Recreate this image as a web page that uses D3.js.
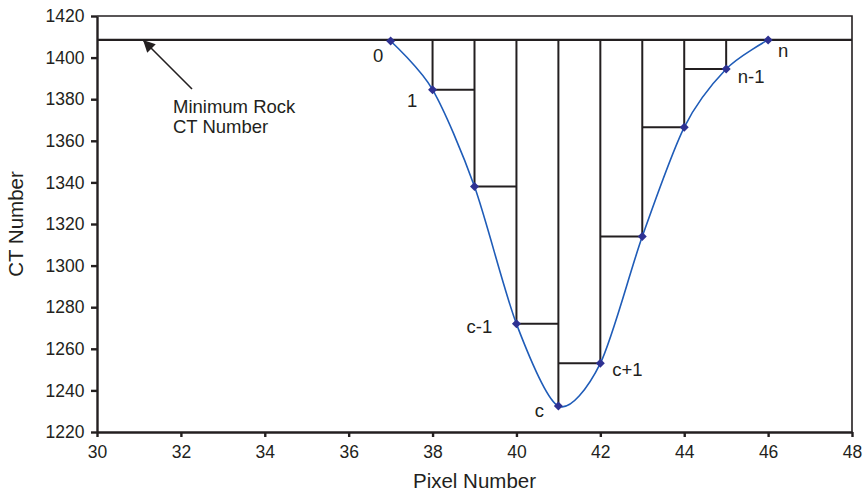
<!DOCTYPE html>
<html>
<head>
<meta charset="utf-8">
<script src="https://cdn.jsdelivr.net/npm/d3@7"></script>
<style>
  body { margin: 0; background: #fff; }
  text { font-family: "Liberation Sans", Arial, sans-serif; fill: #231f20; }
</style>
</head>
<body>
<div id="chart"></div>
<script>
// data
const pixelNumbers = [37, 38, 39, 40, 41, 42, 43, 44, 45, 46]
const ctNumbers = [1408, 1384.6, 1338, 1272, 1232.5, 1253, 1314, 1366.5, 1394.5, 1408.5]
const pointLabels = ["0", "1", "", "c-1", "c", "c+1", "", "", "n-1", "n"]
const minRockCT = 1408.5
const centerPixel = 41
const xTicks = [30, 32, 34, 36, 38, 40, 42, 44, 46, 48]
const yTicks = [1220, 1240, 1260, 1280, 1300, 1320, 1340, 1360, 1380, 1400, 1420]

const width = 863, height = 494
const margin = { top: 16, right: 11, bottom: 62, left: 97 }
const ink = "#231f20"

const svg = d3.select("#chart")
              .append("svg")
              .attr("width", width)
              .attr("height", height)

const x = d3.scaleLinear()
            .domain([30, 48])
            .range([margin.left, width - margin.right])

const y = d3.scaleLinear()
            .domain([1220, 1420])
            .range([height - margin.bottom, margin.top])

const points = pixelNumbers.map((p, i) => ({ p: p, v: ctNumbers[i], label: pointLabels[i] }))

// frame (top and right edges)
svg.append("path")
   .attr("d", `M${x(30)},${y(1420)}H${x(48)}V${y(1220)}`)
   .attr("fill", "none")
   .attr("stroke", ink)
   .attr("stroke-width", 1.6)

// axes
const xAxis = d3.axisBottom(x).tickValues(xTicks).tickSize(5).tickSizeOuter(0)
const yAxis = d3.axisLeft(y).tickValues(yTicks).tickSize(6).tickSizeOuter(0)
                .tickFormat(d3.format("d"))

const gx = svg.append("g")
              .attr("transform", `translate(0,${y(1220)})`)
              .call(xAxis)
gx.selectAll("text").attr("font-size", "17.5px").attr("dy", "1.05em")

const gy = svg.append("g")
              .attr("transform", `translate(${x(30)},0)`)
              .call(yAxis)
gy.selectAll("text").attr("font-size", "17.5px").attr("dx", "-0.2em")

svg.selectAll(".domain, .tick line")
   .attr("stroke", ink)
   .attr("stroke-width", 2.4)
svg.selectAll(".tick text").style("fill", ink).attr("font-family", "Liberation Sans, Arial, sans-serif")

// minimum rock CT line
svg.append("line")
   .attr("x1", x(30))
   .attr("x2", x(48))
   .attr("y1", y(minRockCT))
   .attr("y2", y(minRockCT))
   .attr("stroke", ink)
   .attr("stroke-width", 2.2)

// step construction: vertical drops and horizontal treads
const inner = points.filter(d => d.p > pixelNumbers[0] && d.p < pixelNumbers[pixelNumbers.length - 1])
const steps = svg.append("g")
                 .attr("stroke", ink)
                 .attr("stroke-width", 2)
                 .attr("fill", "none")

steps.selectAll("line.drop")
     .data(inner)
     .enter()
     .append("line")
     .attr("class", "drop")
     .attr("x1", d => x(d.p))
     .attr("x2", d => x(d.p))
     .attr("y1", y(minRockCT))
     .attr("y2", d => y(d.v))

steps.selectAll("line.tread")
     .data(inner.filter(d => d.p !== centerPixel))
     .enter()
     .append("line")
     .attr("class", "tread")
     .attr("x1", d => x(d.p))
     .attr("x2", d => d.p < centerPixel ? x(d.p + 1) : x(d.p - 1))
     .attr("y1", d => y(d.v))
     .attr("y2", d => y(d.v))

// smoothed profile
const line = d3.line()
               .x(d => x(d.p))
               .y(d => y(d.v))
               .curve(d3.curveCardinal.tension(0.15))

svg.append("path")
   .datum(points)
   .attr("d", line)
   .attr("fill", "none")
   .attr("stroke", "#1f5cb8")
   .attr("stroke-width", 1.6)

svg.selectAll("path.marker")
   .data(points)
   .enter()
   .append("path")
   .attr("class", "marker")
   .attr("d", "M0,-4.5L4.5,0L0,4.5L-4.5,0Z")
   .attr("transform", d => `translate(${x(d.p)},${y(d.v)})`)
   .attr("fill", "#2e3192")

// point labels
const labelOffset = {
  "0": [-12.5, 21], "1": [-20.5, 17], "c-1": [-37, 9], "c": [-19, 11],
  "c+1": [27, 13], "n-1": [25, 14], "n": [15, 17]
}
svg.selectAll("text.plabel")
   .data(points.filter(d => d.label))
   .enter()
   .append("text")
   .attr("class", "plabel")
   .attr("x", d => x(d.p) + labelOffset[d.label][0])
   .attr("y", d => y(d.v) + labelOffset[d.label][1])
   .attr("text-anchor", "middle")
   .attr("font-size", "18.5px")
   .text(d => d.label)

// annotation arrow
svg.append("defs")
   .append("marker")
   .attr("id", "arrow")
   .attr("viewBox", "0 0 10 10")
   .attr("refX", 10)
   .attr("refY", 5)
   .attr("markerWidth", 16)
   .attr("markerHeight", 12)
   .attr("markerUnits", "userSpaceOnUse")
   .attr("orient", "auto")
   .append("path")
   .attr("d", "M0,0L10,5L0,10Z")
   .attr("fill", ink)

svg.append("line")
   .attr("x1", 192)
   .attr("y1", 89)
   .attr("x2", 143)
   .attr("y2", 40)
   .attr("stroke", ink)
   .attr("stroke-width", 1.6)
   .attr("marker-end", "url(#arrow)")

const note = svg.append("text")
                .attr("x", 173)
                .attr("y", 113)
                .attr("font-size", "18.5px")
note.append("tspan").attr("x", 173).text("Minimum Rock")
note.append("tspan").attr("x", 173).attr("dy", 19.5).text("CT Number")

// axis titles
svg.append("text")
   .attr("x", (x(30) + x(48)) / 2)
   .attr("y", 488)
   .attr("text-anchor", "middle")
   .attr("font-size", "20.5px")
   .text("Pixel Number")

svg.append("text")
   .attr("transform", `translate(23,${(y(1220) + y(1420)) / 2}) rotate(-90)`)
   .attr("text-anchor", "middle")
   .attr("font-size", "20.5px")
   .text("CT Number")
</script>
</body>
</html>
